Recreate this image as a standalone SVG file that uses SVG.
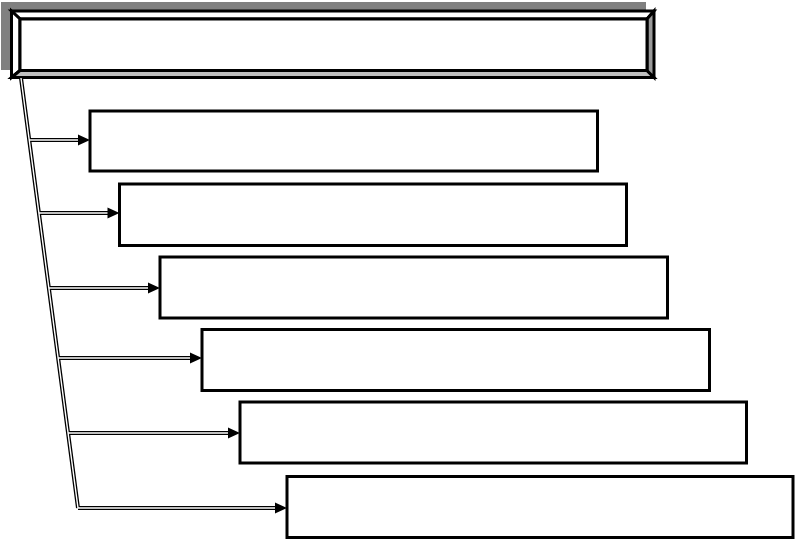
<svg xmlns="http://www.w3.org/2000/svg" width="795" height="539" viewBox="0 0 795 539">
<style>
.box{fill:#fff;stroke:#000;stroke-width:3}
.bev{stroke:#000;stroke-width:3;stroke-linejoin:miter}
.outer{fill:none;stroke:#000;stroke-width:4}
.inner{fill:none;stroke:#fff;stroke-width:1.4}
.head{fill:#000}
</style>
<defs>
<path id="ah" d="M0,0 L-12,-5.5 L-12,5.5 Z"/>
</defs>
<rect width="795" height="539" fill="#fff"/>
<g id="title">
<rect x="1" y="2" width="645" height="68" fill="#808080"/>
<polygon points="11.5,11 654,11 647,19 20,19" fill="#fff" class="bev"/>
<polygon points="11.5,11 20,19 20,70.5 11.5,77.5" fill="#fff" class="bev"/>
<polygon points="11.5,77.5 20,70.5 647,70.5 654,77.5" fill="#c0c0c0" class="bev"/>
<polygon points="654,11 654,77.5 647,70.5 647,19" fill="#9a9a9a" class="bev"/>
<rect x="20" y="19" width="627" height="51.5" class="box"/>
</g>
<g id="connectors">
<path class="outer" d="M21,78 L78,508 M29.2,140 L79,140 M38.9,213 L108,213 M48.8,288 L148,288 M58.1,358 L190,358 M68.1,433 L228,433 M78,508 L275,508"/>
<path class="inner" d="M21,78 L78,508 M29.2,140 L79,140 M38.9,213 L108,213 M48.8,288 L148,288 M58.1,358 L190,358 M68.1,433 L228,433 M78,508 L275,508"/>
<use href="#ah" class="head" transform="translate(90,140)"/>
<use href="#ah" class="head" transform="translate(119.5,213)"/>
<use href="#ah" class="head" transform="translate(160,288)"/>
<use href="#ah" class="head" transform="translate(202,358)"/>
<use href="#ah" class="head" transform="translate(240,433)"/>
<use href="#ah" class="head" transform="translate(287,508)"/>
</g>
<g id="box1"><rect x="90" y="111" width="507.5" height="60" class="box"/></g>
<g id="box2"><rect x="119.5" y="184" width="507" height="61.5" class="box"/></g>
<g id="box3"><rect x="160" y="257" width="507.5" height="61" class="box"/></g>
<g id="box4"><rect x="202" y="329.5" width="507.5" height="61" class="box"/></g>
<g id="box5"><rect x="240" y="402" width="506.5" height="61" class="box"/></g>
<g id="box6"><rect x="287" y="476.5" width="506" height="61" class="box"/></g>
</svg>
